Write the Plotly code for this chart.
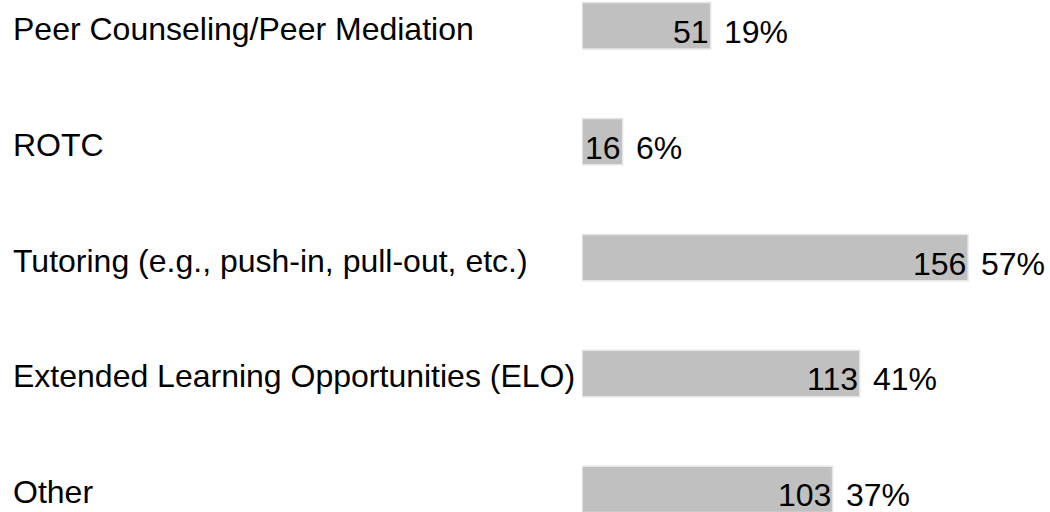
"""
Horizontal bar chart of program participation (count + share)
"""
import plotly.graph_objects as go

categories = [
    "Peer Counseling/Peer Mediation",
    "ROTC",
    "Tutoring (e.g., push-in, pull-out, etc.)",
    "Extended Learning Opportunities (ELO)",
    "Other",
]
counts = [51, 16, 156, 113, 103]
percents = [19, 6, 57, 41, 37]

FONT = "Liberation Sans, Arial, sans-serif"
FSIZE = 32

fig = go.Figure()

# bars are drawn to the share (percent) scale
fig.add_trace(go.Bar(
    x=percents,
    y=categories,
    orientation='h',
    width=0.40,
    marker=dict(color='#c0c0c0', line=dict(color='#e6e6e6', width=1.5)),
    hoverinfo='skip',
))

annotations = []
for cat, n, p in zip(categories, counts, percents):
    # category label at the far left
    annotations.append(dict(
        x=(11 - 582) / 468, xref='paper', xanchor='left',
        y=cat, yref='y', yanchor='middle', yshift=-3,
        text=cat, showarrow=False,
        font=dict(family=FONT, size=FSIZE, color='black'),
    ))
    # count, inside the bar end
    annotations.append(dict(
        x=p, xref='x', xanchor='right', xshift=0,
        y=cat, yref='y', yanchor='middle', yshift=-6,
        text=str(n), showarrow=False,
        font=dict(family=FONT, size=FSIZE, color='black'),
    ))
    # percent, just past the bar
    annotations.append(dict(
        x=p, xref='x', xanchor='left', xshift=11,
        y=cat, yref='y', yanchor='middle', yshift=-6,
        text=f"{p}%", showarrow=False,
        font=dict(family=FONT, size=FSIZE, color='black'),
    ))

fig.update_layout(
    width=1050,
    height=512,
    margin=dict(l=582, r=0, t=0, b=0),
    paper_bgcolor='white',
    plot_bgcolor='white',
    showlegend=False,
    annotations=annotations,
    xaxis=dict(range=[0, 69.1], visible=False, fixedrange=True),
    yaxis=dict(type='category', range=[4.195, -0.222], visible=False,
               fixedrange=True),
)

# drop the default page margin so the figure sits at the window corner
fig.write_html(
    "out.html",
    config=dict(displayModeBar=False),
    post_script="document.body.style.margin='0';document.body.style.overflow='hidden';",
)
